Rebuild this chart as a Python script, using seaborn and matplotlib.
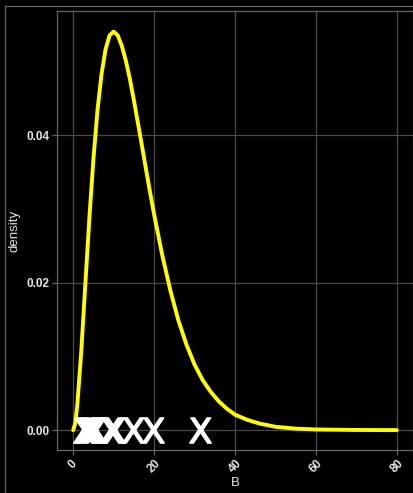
import matplotlib
matplotlib.use("Agg")
import matplotlib.pyplot as plt
import seaborn as sns
import pandas as pd
from matplotlib.lines import Line2D

# --- data ---
curve_x = [0, 0.5, 1, 2, 3, 4, 5, 6, 7, 8, 9, 10, 11, 12, 13, 14, 15, 16, 17, 18,
           19, 20, 22, 24, 26, 28, 30, 32, 34, 36, 38, 40, 43, 46, 50, 55, 60, 70, 80]
curve_density = [0.0, 0.0009, 0.0033, 0.0107, 0.0198, 0.0288, 0.0368, 0.0434, 0.0483,
                 0.0517, 0.0536, 0.0541, 0.0536, 0.0522, 0.0502, 0.0477, 0.0448, 0.0417,
                 0.0386, 0.0354, 0.0323, 0.0293, 0.0238, 0.0190, 0.0149, 0.0116, 0.0089,
                 0.0068, 0.0052, 0.0039, 0.0029, 0.0021, 0.0014, 0.0009, 0.00045,
                 0.0002, 0.00009, 0.00002, 0.0]
sample_B = [2.6, 3.2, 3.9, 4.6, 5.4, 9.4, 10.2, 14.8, 19.7, 31.3]

x_ticks = [0, 20, 40, 60, 80]
y_ticks = [0.00, 0.02, 0.04]

curve_df = pd.DataFrame({"B": curve_x, "density": curve_density})
points_df = pd.DataFrame({"B": sample_B, "density": [0.0] * len(sample_B)})

sns.set_style("dark")
plt.rcParams["font.family"] = ["Liberation Sans", "DejaVu Sans"]

fig = plt.figure(figsize=(4.14, 4.93), dpi=100, facecolor="black")
ax = fig.add_axes([57 / 414, 43 / 493, 356 / 414, 439 / 493])
ax.set_facecolor("black")

sns.lineplot(data=curve_df, x="B", y="density", ax=ax, color="#ffff00",
             linewidth=2.8, zorder=3)
# letter-shaped X markers like the reference
sns.scatterplot(data=points_df, x="B", y="density", ax=ax, marker=r"$\mathsf{X}$",
                color="white", s=330, linewidth=1.0, edgecolor="white", zorder=4)

ax.set_xlim(-4, 84)
ax.set_ylim(-0.0027, 0.0569)
ax.set_xticks(x_ticks)
ax.set_yticks(y_ticks)
ax.set_yticklabels([f"{v:.2f}" for v in y_ticks], fontsize=8.5,
                   fontweight="bold", color="#e6e6e6")
ax.set_xticklabels([str(v) for v in x_ticks], fontsize=8.5, fontweight="bold",
                   color="#e6e6e6", rotation=45, ha="center")

ax.grid(True, color="#4a4a4a", linewidth=0.9)
ax.tick_params(axis="both", colors="#666666", length=3.5, width=0.9,
               labelcolor="#e6e6e6", pad=2, bottom=True, left=True)
for side in ["left", "bottom", "top", "right"]:
    ax.spines[side].set_visible(True)
    ax.spines[side].set_color("#666666")
    ax.spines[side].set_linewidth(0.9)

ax.set_xlabel("B", color="#e6e6e6", fontsize=9.5, labelpad=1)
ax.set_ylabel("density", color="#e6e6e6", fontsize=9.5, labelpad=4)

# thin outer frame seen at the top and left of the reference
fig.add_artist(Line2D([5.5 / 414, 5.5 / 414], [0, 1 - 5.5 / 493],
                      transform=fig.transFigure, color="#666666", linewidth=0.9))
fig.add_artist(Line2D([5.5 / 414, 1], [1 - 5.5 / 493, 1 - 5.5 / 493],
                      transform=fig.transFigure, color="#666666", linewidth=0.9))

fig.savefig("out.png", dpi=100, facecolor="black")
